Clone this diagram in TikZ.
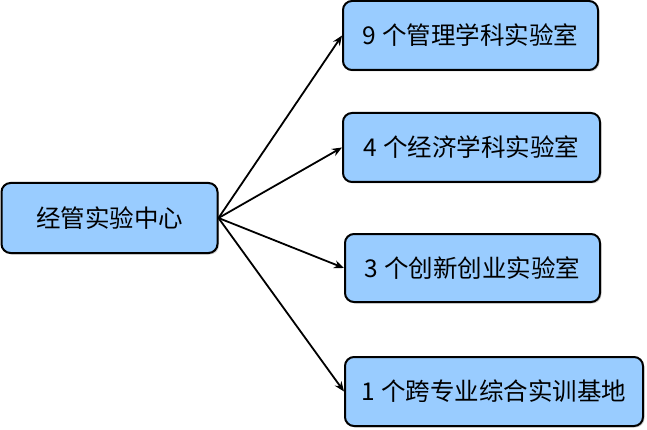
\documentclass[tikz,border=0pt]{standalone}
\usepackage{fontspec}
\setmainfont{Noto Sans CJK SC}
\usetikzlibrary{shadows,arrows.meta}
\definecolor{boxblue}{HTML}{99CCFF}
\tikzset{
  box/.style={draw=black, line width=2pt, fill=boxblue, rounded corners=9pt,
    drop shadow={shadow xshift=1.5pt, shadow yshift=-1.5pt, opacity=0.35},
    font=\fontsize{24.5}{28}\selectfont, inner sep=0pt},
  conn/.style={line width=1.8pt, -{Stealth[length=10pt,width=8pt]}}
}
\begin{document}
\begin{tikzpicture}[x=1pt,y=-1pt]
\useasboundingbox (0,0) rectangle (647,430);
\node[box, minimum width=216pt, minimum height=70pt] (c) at (109.5,218) {经管实验中心};
\node[box, minimum width=255pt, minimum height=69pt] (a) at (470.5,35.5) {9 个管理学科实验室};
\node[box, minimum width=257pt, minimum height=69pt] (b) at (471.5,147.5) {4 个经济学科实验室};
\node[box, minimum width=255pt, minimum height=68pt] (d) at (472.5,268) {3 个创新创业实验室};
\node[box, minimum width=298pt, minimum height=69pt] (e) at (494,391.5) {1 个跨专业综合实训基地};
\coordinate (o) at (c.east);
\foreach \t in {a,b,d,e}{\draw[conn] (o) -- (\t.west);}
\end{tikzpicture}
\end{document}
